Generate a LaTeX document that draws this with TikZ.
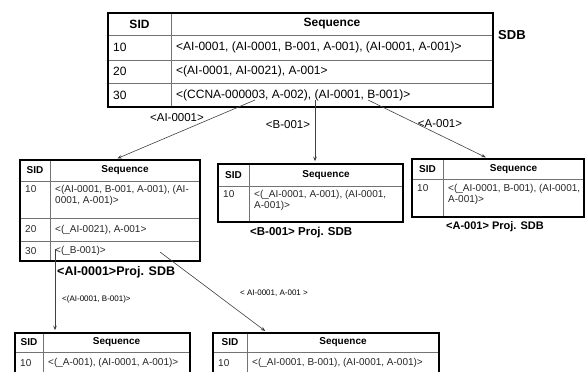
\documentclass[tikz,border=0pt]{standalone}
\usepackage{fontspec}
\setmainfont{Liberation Sans}
\usetikzlibrary{arrows.meta,calc}

\tikzset{
  tblframe/.style={draw=black, line width=1.5pt, inner sep=0pt},
  tblline/.style={draw=black!55, line width=0.7pt},
  bighd/.style={inner sep=0pt, font=\fontsize{12}{14}\selectfont\bfseries},
  bigtxt/.style={anchor=west, inner sep=0pt, font=\fontsize{12}{14}\selectfont},
  hd/.style={inner sep=0pt, font=\fontsize{10}{12}\selectfont\bfseries},
  txt/.style={anchor=west, inner sep=0pt, text=black!85, font=\fontsize{10}{11.5}\selectfont},
  txttop/.style={txt, anchor=north west, align=left},
  projlbl/.style={anchor=west, inner sep=0pt, font=\bfseries},
  arrlbl/.style={inner sep=0pt, font=\fontsize{11.5}{13}\selectfont},
  smalllbl/.style={anchor=west, inner sep=0pt, font=\fontsize{8}{10}\selectfont},
  arr/.style={draw=black!75, line width=0.6pt, -{Stealth[length=4.5pt,width=3.5pt]}, shorten >=2pt}
}

\begin{document}
\begin{tikzpicture}[x=1pt, y=-1pt]
    \path[use as bounding box] (0,0) rectangle (587,372);
    \clip (0,0) rectangle (587,372);

    % SDB table
    \foreach \y in {35,60,83} \draw[tblline] (108,\y) -- (493,\y);
    \draw[tblline] (171,13) -- (171,107);
    \node[tblframe, minimum width=385pt, minimum height=94pt] (sdb) at (300.5,60) {};
    \node[bighd] at (139.5,24) {SID};
    \node[bighd] at (332,24) {Sequence};
    \node[bigtxt] at (113,47.5) {10};
    \node[bigtxt] at (176,47.5) {<AI-0001, (AI-0001, B-001, A-001), (AI-0001, A-001)>};
    \node[bigtxt] at (113,71.5) {20};
    \node[bigtxt] at (176,71.5) {<(AI-0001, AI-0021), A-001>};
    \node[bigtxt] at (113,95) {30};
    \node[bigtxt] at (176,95) {<(CCNA-000003, A-002), (AI-0001, B-001)>};
    \node[projlbl, font=\fontsize{13}{15}\selectfont\bfseries] at (498,35) {SDB};

    % <AI-0001> projected table
    \foreach \y in {181,218,241} \draw[tblline] (20,\y) -- (200,\y);
    \draw[tblline] (50,160) -- (50,261);
    \node[tblframe, minimum width=180pt, minimum height=101pt] (projAI) at (110,210.5) {};
    \node[hd] at (35,170.5) {SID};
    \node[hd] at (125,170.5) {Sequence};
    \node[txttop] at (25,184) {\strut 10};
    \node[txttop] at (55,184) {\strut <(AI-0001, B-001, A-001), (AI-\\0001, A-001)>};
    \node[txt] at (25,229.5) {20};
    \node[txt] at (55,229.5) {<(\_AI-0021), A-001>};
    \node[txt] at (25,251) {30};
    \node[txt] at (55,251) {<(\_B-001)>};
    \node[projlbl, font=\fontsize{12.5}{14}\selectfont\bfseries] at (57,272) {<AI-0001>Proj. SDB};

    % <B-001> projected table
    \draw[tblline] (218,186) -- (403,186);
    \draw[tblline] (249,164) -- (249,222);
    \node[tblframe, minimum width=185pt, minimum height=58pt] (projB) at (310.5,193) {};
    \node[hd] at (233.5,175) {SID};
    \node[hd] at (326,175) {Sequence};
    \node[txttop] at (223,189) {\strut 10};
    \node[txttop] at (254,189) {\strut <(\_AI-0001, A-001), (AI-0001,\\A-001)>};
    \node[projlbl, font=\fontsize{11.5}{13}\selectfont\bfseries] at (250,233) {<B-001> Proj. SDB};

    % <A-001> projected table
    \draw[tblline] (412,179) -- (584,179);
    \draw[tblline] (443,159) -- (443,217);
    \node[tblframe, minimum width=172pt, minimum height=58pt] (projA) at (498,188) {};
    \node[hd] at (427.5,169) {SID};
    \node[hd] at (513.5,169) {Sequence};
    \node[txttop] at (417,183) {\strut 10};
    \node[txttop] at (448,183) {\strut <(\_AI-0001, B-001), (AI-0001,\\A-001)>};
    \node[projlbl, font=\fontsize{11}{13}\selectfont\bfseries] at (446,227) {<A-001> Proj. SDB};

    % <(AI-0001, B-001)> projected table
    \draw[tblline] (15,352) -- (190,352);
    \draw[tblline] (43,333) -- (43,385);
    \node[tblframe, minimum width=175pt, minimum height=52pt] (projAIB) at (102.5,359) {};
    \node[hd] at (29,342.5) {SID};
    \node[hd] at (116.5,342.5) {Sequence};
    \node[txt] at (20,363) {10};
    \node[txt] at (48,363) {<(\_A-001), (AI-0001, A-001)>};

    % <AI-0001, A-001> projected table
    \draw[tblline] (213,352) -- (439,352);
    \draw[tblline] (247,333) -- (247,385);
    \node[tblframe, minimum width=226pt, minimum height=52pt] (projAIA) at (326,359) {};
    \node[hd] at (230,342.5) {SID};
    \node[hd] at (343,342.5) {Sequence};
    \node[txt] at (218,363) {10};
    \node[txt] at (252,363) {<(\_AI-0001, B-001), (AI-0001, A-001)>};

    % projection arrows
    \coordinate (sdbAI) at (255,100);
    \coordinate (sdbB) at (315,100);
    \coordinate (sdbA) at (368,100);
    \coordinate (aiB) at (55,249);
    \coordinate (aiA) at (160,252);

    \draw[arr] (sdbAI) -- ($(projAI.north west)!0.53!(projAI.north east)$);
    \draw[arr] (sdbB) -- (projB.north -| sdbB);
    \draw[arr] (sdbA) -- ($(projA.north west)!0.44!(projA.north east)$);
    \draw[arr] (aiB) -- (projAIB.north -| aiB);
    \draw[arr] (aiA) -- ($(projAIA.north west)!0.24!(projAIA.north east)$);

    \node[arrlbl] at (177,118) {<AI-0001>};
    \node[arrlbl] at (288,125) {<B-001>};
    \node[arrlbl] at (440,124) {<A-001>};
    \node[smalllbl] at (62,299) {<(AI-0001, B-001)>};
    \node[smalllbl] at (240,293) {< AI-0001, A-001 >};
\end{tikzpicture}
\end{document}
